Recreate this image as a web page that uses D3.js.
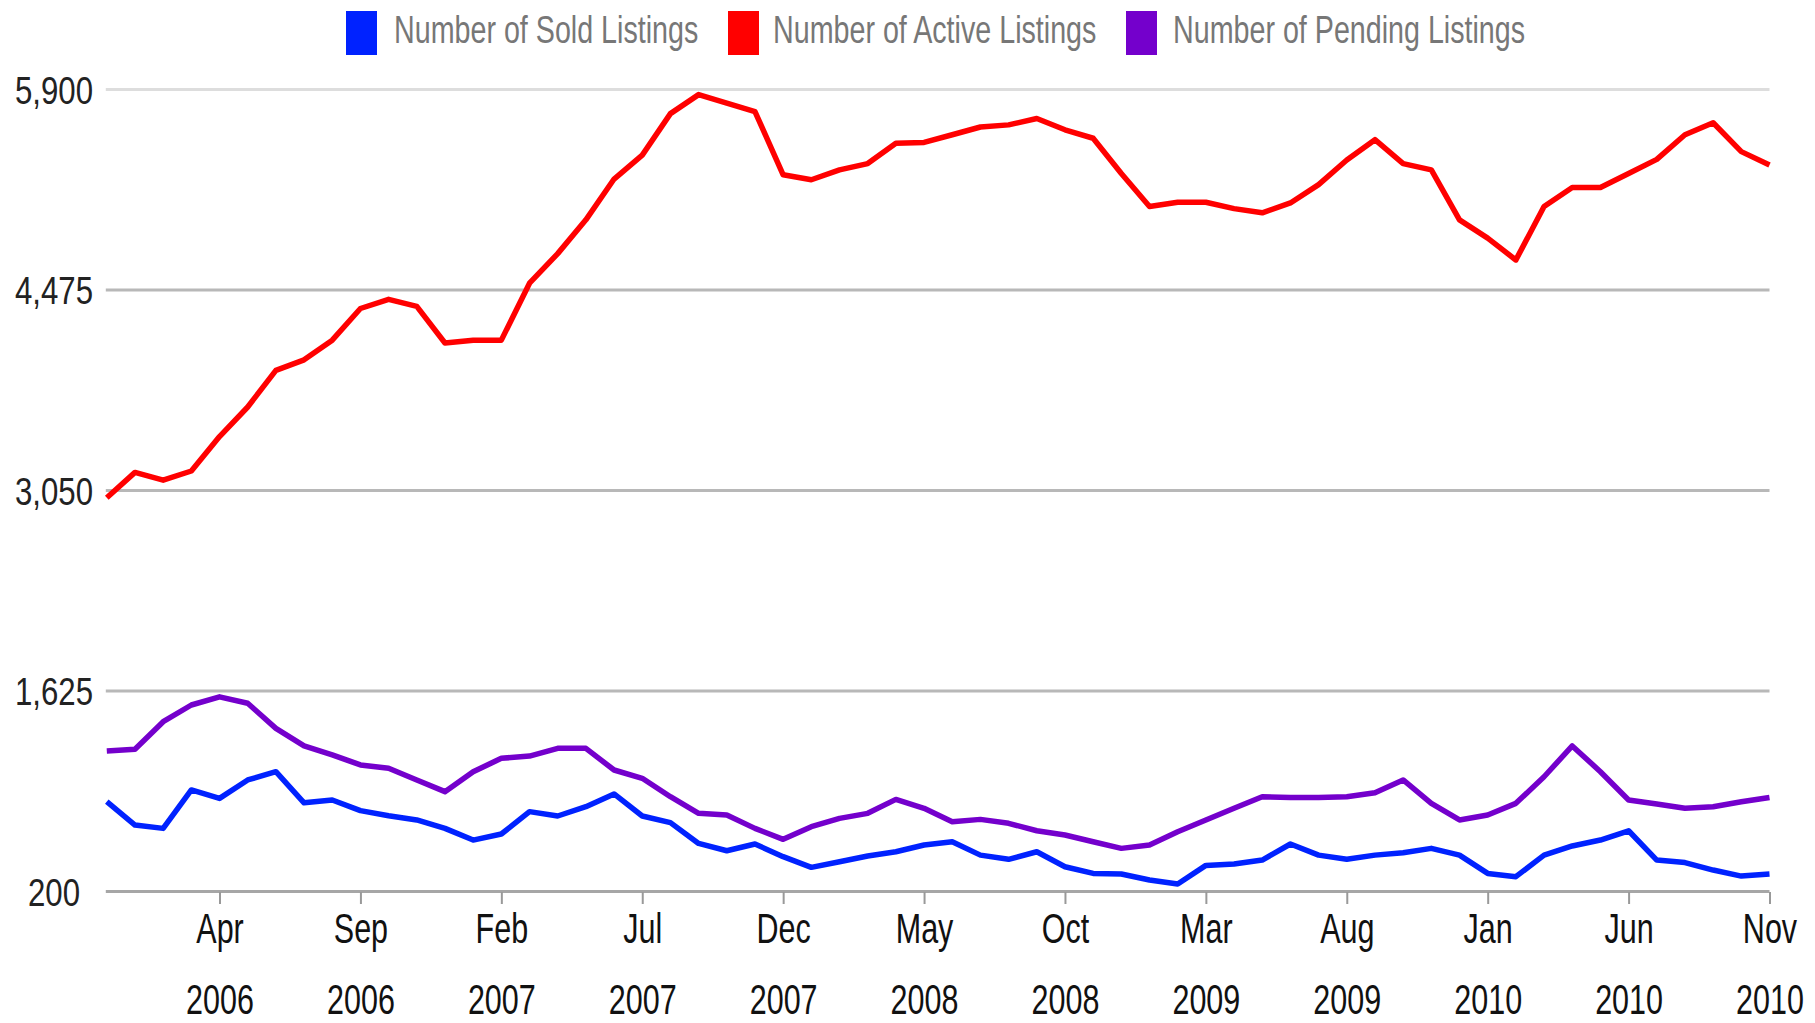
<!DOCTYPE html>
<html>
<head>
<meta charset="utf-8">
<script src="https://cdn.jsdelivr.net/npm/d3@7"></script>
<style>
  html, body { margin: 0; padding: 0; background: #fff; }
  svg { display: block; }
  text { font-family: "Liberation Sans", Arial, sans-serif; }
</style>
</head>
<body>
<svg id="chart" width="1815" height="1023"></svg>
<script>
// ---- data ----
const months = [
  "2005-12",
  "2006-01","2006-02","2006-03","2006-04","2006-05","2006-06","2006-07","2006-08","2006-09","2006-10","2006-11","2006-12",
  "2007-01","2007-02","2007-03","2007-04","2007-05","2007-06","2007-07","2007-08","2007-09","2007-10","2007-11","2007-12",
  "2008-01","2008-02","2008-03","2008-04","2008-05","2008-06","2008-07","2008-08","2008-09","2008-10","2008-11","2008-12",
  "2009-01","2009-02","2009-03","2009-04","2009-05","2009-06","2009-07","2009-08","2009-09","2009-10","2009-11","2009-12",
  "2010-01","2010-02","2010-03","2010-04","2010-05","2010-06","2010-07","2010-08","2010-09","2010-10","2010-11"
];
const soldListings = [835, 669, 645, 918, 858, 989, 1048, 827, 847, 771, 735, 705, 645, 562, 605, 764, 733, 799, 890, 733,
  686, 538, 486, 534, 444, 368, 408, 449, 479, 527, 550, 455, 425, 479, 372, 325, 321, 278, 250, 382,
  392, 420, 534, 455, 425, 455, 472, 503, 455, 325, 302, 455, 520, 562, 628, 420, 402, 349, 306, 321];
const activeListings = [2995, 3175, 3120, 3185, 3430, 3640, 3900, 3975, 4115, 4340, 4405, 4355, 4095, 4115, 4115, 4520, 4730, 4970, 5260, 5430,
  5725, 5860, 5800, 5740, 5290, 5255, 5325, 5370, 5515, 5520, 5575, 5630, 5645, 5690, 5610, 5550, 5300, 5065, 5095, 5095,
  5050, 5020, 5090, 5220, 5395, 5540, 5370, 5325, 4970, 4840, 4685, 5065, 5200, 5200, 5300, 5400, 5575, 5660, 5455, 5360];
const pendingListings = [1195, 1207, 1403, 1522, 1580, 1534, 1356, 1231, 1167, 1096, 1072, 989, 906, 1048, 1143, 1159, 1214, 1214, 1060, 1001,
  870, 752, 740, 645, 567, 657, 716, 752, 851, 788, 692, 709, 681, 628, 598, 550, 503, 527, 621, 705,
  788, 870, 865, 865, 870, 898, 989, 823, 705, 740, 823, 1012, 1231, 1048, 847, 818, 788, 799, 834, 865];
const seriesNames = ["Number of Sold Listings", "Number of Active Listings", "Number of Pending Listings"];
const seriesColors = ["#0022ff", "#ff0000", "#7400cc"];
const yTicks = [200, 1625, 3050, 4475, 5900];
const xTickMonths = ["2006-04","2006-09","2007-02","2007-07","2007-12","2008-05","2008-10","2009-03","2009-08","2010-01","2010-06","2010-11"];
const xTickLabels = [["Apr","2006"],["Sep","2006"],["Feb","2007"],["Jul","2007"],["Dec","2007"],["May","2008"],
  ["Oct","2008"],["Mar","2009"],["Aug","2009"],["Jan","2010"],["Jun","2010"],["Nov","2010"]];

// ---- layout ----
const plotLeft = 106.8, plotRight = 1769.5, plotTop = 89, plotBottom = 891;
const svg = d3.select("#chart");

const x = d3.scalePoint().domain(months).range([plotLeft, plotRight]);
const y = d3.scaleLinear().domain([200, 5900]).range([plotBottom, plotTop]);

// gridlines + y labels
const gridColor = v => v === 5900 ? "#dddddd" : (v === 200 ? "#a6a6a6" : "#b8b8b8");
const yAxis = svg.append("g").attr("transform", `translate(${plotLeft},0)`)
  .call(d3.axisLeft(y).tickValues(yTicks).tickSize(-(plotRight - plotLeft)).tickFormat(d3.format(",")));
yAxis.select(".domain").remove();
yAxis.selectAll(".tick line").attr("stroke", d => gridColor(d)).attr("stroke-width", 3).attr("x1", -1);
yAxis.selectAll(".tick text")
  .attr("x", null).attr("dy", null)
  .attr("text-anchor", "middle")
  .attr("fill", "#222")
  .attr("font-size", 39)
  .attr("transform", `translate(${54 - plotLeft},14) scale(0.8,1)`);

// x axis ticks
const xAxis = svg.append("g").attr("transform", `translate(0,${plotBottom + 1})`)
  .call(d3.axisBottom(x).tickValues(xTickMonths).tickSize(12).tickFormat(""));
xAxis.select(".domain").remove();
xAxis.selectAll(".tick line").attr("stroke", "#999").attr("stroke-width", 2);
xAxis.selectAll(".tick text").remove();
xAxis.selectAll(".tick").each(function(d, i) {
  const g = d3.select(this);
  g.append("text").text(xTickLabels[i][0])
    .attr("text-anchor", "middle").attr("fill", "#111").attr("font-size", 43)
    .attr("transform", `translate(0,51) scale(0.71,1)`);
  g.append("text").text(xTickLabels[i][1])
    .attr("text-anchor", "middle").attr("fill", "#111").attr("font-size", 43)
    .attr("transform", `translate(0,122) scale(0.71,1)`);
});

// lines
const series = [soldListings, activeListings, pendingListings];
const line = d3.line().x((d, i) => x(months[i])).y(d => y(d));
[2, 0, 1].forEach(k => {
  svg.append("path")
    .datum(series[k])
    .attr("d", line)
    .attr("fill", "none")
    .attr("stroke", seriesColors[k])
    .attr("stroke-width", 5.5)
    .attr("stroke-linejoin", "round")
    .attr("stroke-linecap", "butt");
});

// legend
const legendSwatchX = [346, 728, 1126];
const legendTextX = [394, 773, 1173];
const legend = svg.append("g");
seriesNames.forEach((name, k) => {
  legend.append("rect")
    .attr("x", legendSwatchX[k]).attr("y", 11).attr("width", 31).attr("height", 44)
    .attr("fill", seriesColors[k]);
  legend.append("text").text(name)
    .attr("fill", "#777").attr("font-size", 39)
    .attr("transform", `translate(${legendTextX[k]},43) scale(0.735,1)`);
});
</script>
</body>
</html>
